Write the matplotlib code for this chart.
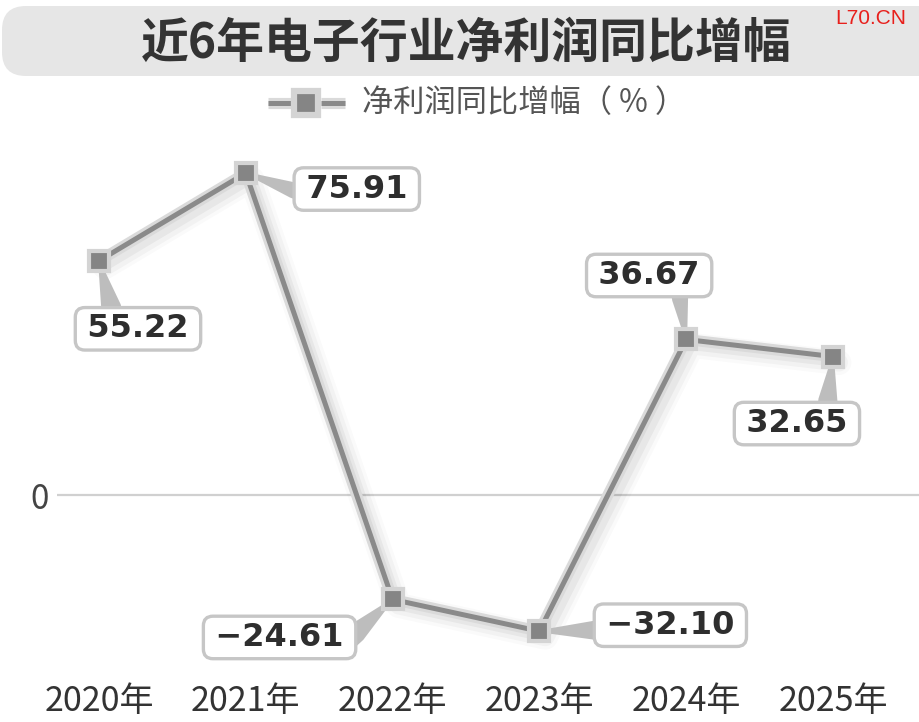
import matplotlib
matplotlib.use("Agg")
import numpy as np
import matplotlib.pyplot as plt
import matplotlib.patheffects as pe
import matplotlib.transforms as mtransforms
from matplotlib.patches import FancyBboxPatch, Polygon
from matplotlib.lines import Line2D

plt.rcParams['font.family'] = ['Noto Sans CJK SC', 'DejaVu Sans']

years = ["2020年", "2021年", "2022年", "2023年", "2024年", "2025年"]
values = [55.22, 75.91, -24.61, -32.10, 36.67, 32.65]
series_name = "净利润同比增幅（ % ）"
title = "近6年电子行业净利润同比增幅"

W, H = 920, 722
fig = plt.figure(figsize=(W / 100, H / 100), dpi=100)
fig.patch.set_facecolor('white')

px = lambda x: x / W
py = lambda y: 1 - y / H

# title bar
bar = FancyBboxPatch((px(2), py(76)), 960 / W, 70 / H,
                     boxstyle="round,pad=0,rounding_size=0.026",
                     transform=fig.transFigure, facecolor='#e6e6e6',
                     edgecolor='none', mutation_aspect=W / H)
fig.patches.append(bar)
fig.text(px(466), py(43), title, ha='center', va='center',
         fontsize=34.5, fontweight='bold', color='#333333')
fig.text(px(871), py(18), "L70.CN", ha='center', va='center',
         fontsize=15, color='#e8201c', family=['Liberation Sans', 'DejaVu Sans'])

# axes
ax = fig.add_axes([px(57), py(680), px(920) - px(57), py(140) - py(680)])
ax.set_xlim(-0.286, 5.593)
ax.set_ylim(-43.6, 83.7)
for s in ax.spines.values():
    s.set_visible(False)
ax.axhline(0, color='#d0d0d0', lw=1.6, zorder=1)
ax.set_xticks(range(len(years)))
ax.set_xticklabels(years, fontsize=24.5, color='#333333')
ax.set_yticks([0])
ax.set_yticklabels(['0'], fontsize=24, color='#444444')
ax.tick_params(length=0, pad=3)
ax.tick_params(axis='y', pad=6)

xs = list(range(len(values)))
# soft shadow
for off, lw, a in [(6, 18, 0.02), (6, 13, 0.03), (5, 8, 0.045)]:
    tr = ax.transData + mtransforms.ScaledTranslation(off / 100, -off / 100, fig.dpi_scale_trans)
    ax.plot(xs, values, color='#000000', lw=lw, alpha=a, zorder=2,
            solid_joinstyle='round', solid_capstyle='round', transform=tr)
ax.plot(xs, values, color='#8a8a8a', lw=3.6, zorder=3, solid_joinstyle='miter',
        path_effects=[pe.Stroke(linewidth=8, foreground='#dadada'), pe.Normal()])
ax.plot(xs, values, ls='none', marker='s', ms=15, mew=3,
        mfc='#858585', mec='#d4d4d4', zorder=4)

# callouts: box centre offsets and wedge base offsets, in pixels from the point
box_off = [(39, 68), (111, 16), (-113, 38), (131, -6), (-37, -64), (-36, 67)]
base_off = [(12, 46), (47, 17), (-36, 33), (55, -1), (-6, -40), (-5, 43)]
base_w = [20, 16, 20, 19, 16, 19]
fig.canvas.draw()
for x, v, (bx, by), (ex, ey), bw in zip(xs, values, box_off, base_off, base_w):
    label = "\u2009" + f"{v:.2f}".replace('-', '−') + "\u2009"
    P = ax.transData.transform((x, v))
    A = P + np.array([ex, -ey])
    d = A - P
    u = d / np.hypot(*d)
    n = np.array([-u[1], u[0]])
    tip = P + u * 3
    Aend = A + u * 12
    poly = Polygon([tip + n * 1.5, tip - n * 1.5, A - n * bw / 2, Aend - n * bw / 2,
                    Aend + n * bw / 2, A + n * bw / 2],
                   closed=True, transform=mtransforms.IdentityTransform(),
                   fc='#bdbdbd', ec='none', zorder=3.5, clip_on=False)
    ax.add_patch(poly)
    ax.annotate(label, xy=(x, v), xytext=(bx * 0.72, -by * 0.72), textcoords='offset points',
                ha='center', va='center', fontsize=23, fontweight='bold',
                color='#2e2e2e', family=['DejaVu Sans'],
                zorder=5,
                bbox=dict(boxstyle='round,pad=0.18,rounding_size=0.3',
                          fc='white', ec='#c6c6c6', lw=2.4),
                annotation_clip=False)

# legend
ly = 103
for x0, x1 in [(268, 292), (321, 345)]:
    fig.lines.append(Line2D([px(x0), px(x1)], [py(ly), py(ly)], transform=fig.transFigure,
                            color='#8a8a8a', lw=3.6, solid_capstyle='butt',
                            path_effects=[pe.Stroke(linewidth=8, foreground='#dadada'), pe.Normal()]))
fig.lines.append(Line2D([px(306)], [py(ly)], transform=fig.transFigure, ls='none',
                        marker='s', ms=17, mew=4.5, mfc='#858585', mec='#d4d4d4'))
fig.text(px(362), py(ly), series_name, ha='left', va='center',
         fontsize=22.5, color='#555555')

fig.savefig("out.png", dpi=100, facecolor='white')
